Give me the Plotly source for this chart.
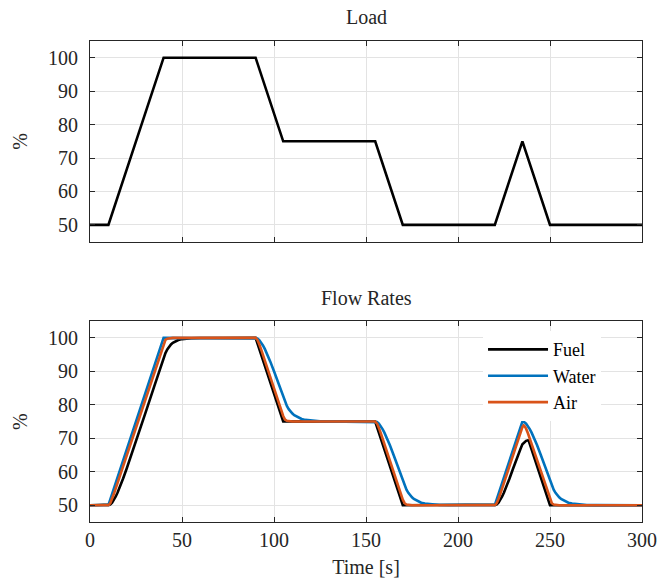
import plotly.graph_objects as go
from plotly.subplots import make_subplots

# ---- data ----
load_t = [0, 10, 40, 90, 105, 155, 170, 220, 235, 250, 300]
load_v = [50, 50, 100, 100, 75, 75, 50, 50, 75, 50, 50]

fuel_t = [0, 10, 11, 12, 13, 14, 15, 16, 18, 20, 22, 25, 30, 35, 40, 41, 42, 43, 44, 45, 46, 48, 50, 52, 55, 60, 65,
          90, 105, 155, 170, 220, 221, 222, 223, 224, 225, 226, 228, 230, 232, 234, 235, 236, 237, 238, 238.4, 250, 300]
fuel_v = [50, 50, 50.21, 50.78, 51.61, 52.64, 53.83, 55.13, 57.98, 61.04, 64.22, 69.09, 77.36, 85.67, 94.0, 95.45,
          96.56, 97.39, 98.02, 98.50, 98.87, 99.35, 99.63, 99.79, 99.91, 99.98, 100,
          100, 75, 75, 50, 50, 50.21, 50.78, 51.61, 52.64, 53.83, 55.13, 57.98, 61.04, 64.22, 66.9, 68.2, 68.9,
          69.25, 69.4, 69.33, 50, 50]

water_t = [0, 10, 40, 90, 91, 92, 93, 94, 95, 96, 98, 100, 102, 105, 106, 107, 108, 109, 110, 111, 113, 115, 117,
           120, 125, 130, 135,
           155, 156, 157, 158, 159, 160, 161, 163, 165, 167, 170, 171, 172, 173, 174, 175, 176, 178, 180, 182,
           185, 190, 195, 200,
           220, 235, 236, 237, 238, 239, 240, 241, 243, 245, 247, 250, 251, 252, 253, 254, 255, 256, 258, 260,
           262, 265, 270, 275, 280, 300]
water_v = [50, 50, 100, 100, 99.83, 99.36, 98.65, 97.75, 96.70, 95.52, 92.90, 90.02, 86.98, 82.23, 80.79, 79.64,
           78.71, 77.97, 77.38, 76.91, 76.22, 75.78, 75.50, 75.26, 75.08, 75.03, 75.01,
           75, 74.83, 74.36, 73.65, 72.75, 71.70, 70.52, 67.90, 65.02, 61.98, 57.23, 55.79, 54.64, 53.71, 52.97,
           52.38, 51.91, 51.22, 50.78, 50.50, 50.26, 50.08, 50.03, 50.01,
           50, 75, 74.83, 74.36, 73.65, 72.75, 71.70, 70.52, 67.90, 65.02, 61.98, 57.23, 55.79, 54.64, 53.71,
           52.97, 52.38, 51.91, 51.22, 50.78, 50.50, 50.26, 50.08, 50.03, 50.01, 50]

air_t = [0, 10, 11, 12, 13, 15, 40, 41, 42, 43, 45, 90, 91, 92, 93, 105, 106, 107, 108, 110, 155, 156, 157, 158,
         170, 171, 172, 173, 175, 220, 221, 222, 223, 235, 235.5, 235.7, 236, 236.5, 237, 238, 250, 251, 252,
         253, 255, 300]
air_v = [50, 50, 50.61, 51.89, 53.42, 56.68, 98.33, 99.39, 99.77, 99.92, 100, 100, 99.39, 98.11, 96.58, 76.67,
         75.61, 75.23, 75.08, 75, 75, 74.39, 73.11, 71.58, 51.67, 50.61, 50.23, 50.08, 50, 50, 50.61, 51.89,
         53.42, 73.33, 73.81, 73.85, 73.77, 73.42, 72.88, 71.5, 51.67, 50.61, 50.23, 50.08, 50, 50]

x_ticks = [0, 50, 100, 150, 200, 250, 300]
y_ticks = [50, 60, 70, 80, 90, 100]

FONT = "Liberation Serif"
FS = 20
BLACK = "#000000"
BLUE = "#0072BD"
ORANGE = "#D95319"
AXC = "#262626"
GRID = "#e3e3e3"

fig = make_subplots(rows=2, cols=1, shared_xaxes=False, vertical_spacing=0.165)

fig.add_trace(go.Scatter(x=load_t, y=load_v, mode="lines", line=dict(color=BLACK, width=2.6),
                         showlegend=False, name="Load"), row=1, col=1)
fig.add_trace(go.Scatter(x=fuel_t, y=fuel_v, mode="lines", line=dict(color=BLACK, width=2.6),
                         name="Fuel"), row=2, col=1)
fig.add_trace(go.Scatter(x=water_t, y=water_v, mode="lines", line=dict(color=BLUE, width=2.6),
                         name="Water"), row=2, col=1)
fig.add_trace(go.Scatter(x=air_t, y=air_v, mode="lines", line=dict(color=ORANGE, width=2.6),
                         name="Air"), row=2, col=1)

axis_common = dict(showline=True, linecolor=AXC, linewidth=1, mirror="ticks", ticks="inside", ticklen=5,
                   tickcolor=AXC, showgrid=True, gridcolor=GRID, gridwidth=1, zeroline=False, automargin=False,
                   tickfont=dict(family=FONT, size=FS, color=AXC))

fig.update_xaxes(range=[0, 300], tickvals=x_ticks, **axis_common)
fig.update_yaxes(range=[45, 105], tickvals=y_ticks, ticklabelstandoff=7, **axis_common)
fig.update_xaxes(showticklabels=False, row=1, col=1)
fig.update_xaxes(title=dict(text="Time [s]", font=dict(family=FONT, size=FS, color=AXC), standoff=10), row=2, col=1)
fig.update_yaxes(title=dict(text="%", font=dict(family=FONT, size=FS, color=AXC), standoff=14))

fig.update_layout(
    width=668, height=578,
    margin=dict(l=90, r=26, t=41, b=56, autoexpand=False),
    paper_bgcolor="white", plot_bgcolor="white",
    font=dict(family=FONT, size=FS, color=AXC),
    xaxis=dict(domain=[0, 1]), yaxis=dict(domain=[0.583, 1.0]),
    xaxis2=dict(domain=[0, 1]), yaxis2=dict(domain=[0.0, 0.4176]),
    legend=dict(x=0.712, xanchor="left", y=0.3968, yanchor="top", bgcolor="white", borderwidth=0,
                font=dict(family=FONT, size=18, color=BLACK), itemwidth=60, tracegroupgap=0),
)

fig.layout.annotations = []
fig.add_annotation(text="Load", xref="paper", yref="paper", x=0.5, y=1.0, yshift=24, showarrow=False,
                   font=dict(family=FONT, size=FS, color=AXC), xanchor="center", yanchor="middle")
fig.add_annotation(text="Flow Rates", xref="paper", yref="paper", x=0.5, y=0.4176, yshift=23, showarrow=False,
                   font=dict(family=FONT, size=FS, color=AXC), xanchor="center", yanchor="middle")

fig.write_html("out.html", config={"displayModeBar": False},
               post_script="document.body.style.margin='0';document.body.style.padding='0';")
